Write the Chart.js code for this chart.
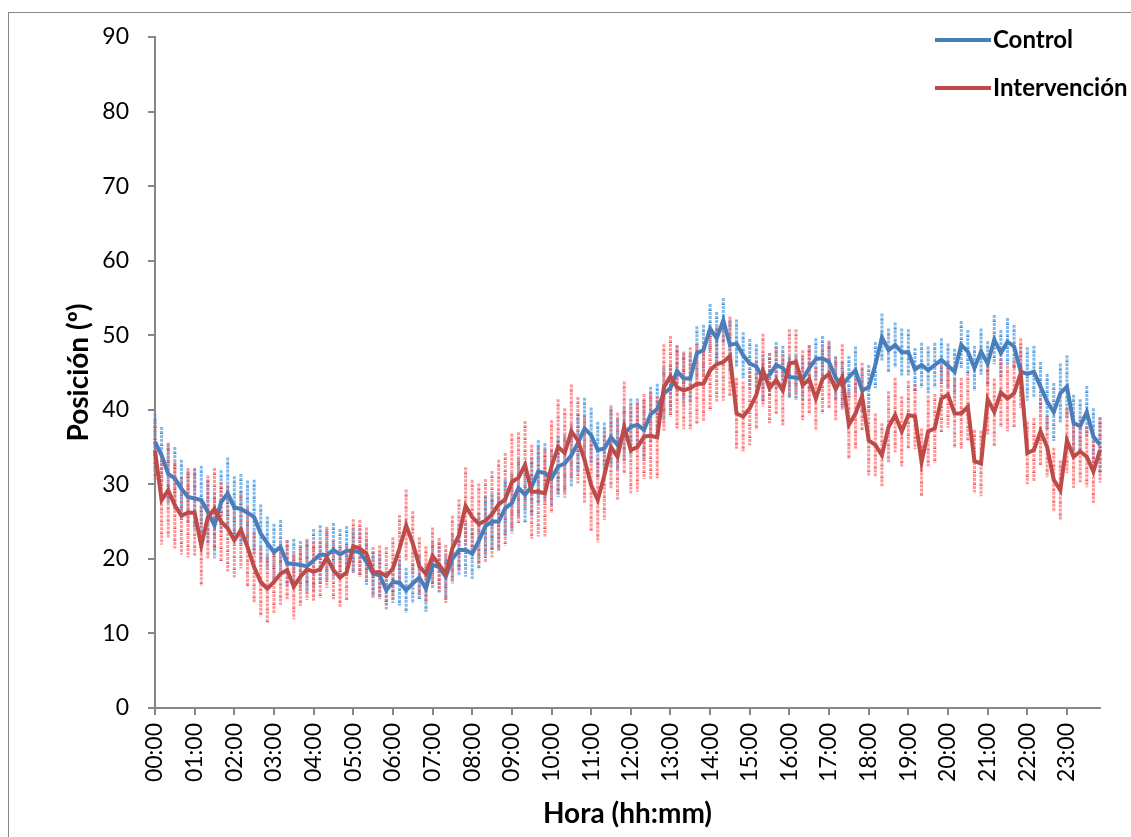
<!doctype html>
<html lang="es">
<head>
<meta charset="utf-8">
<title>Posición por hora</title>
<script src="https://cdn.jsdelivr.net/npm/chart.js"></script>
<style>
  html, body { margin: 0; padding: 0; background: #fff; overflow: hidden; }
  .wrap { position: relative; width: 1131px; height: 837px; }
  .frame { position: absolute; left: 8px; top: 12px; width: 1200px; height: 900px; border: 1px solid #868686; }
  #grafica { position: absolute; left: 0; top: 0; }
  .leyenda { position: absolute; left: 935px; top: 24px; font-family: Lato, sans-serif; font-weight: bold; font-size: 24px; color: #000; }
  .leyenda div { height: 48px; display: flex; align-items: flex-start; }
  .leyenda span.linea { display: inline-block; width: 56px; height: 4px; margin-top: 14px; margin-right: 2px; }
</style>
</head>
<body>
<div class="wrap">
  <div class="frame"></div>
  <canvas id="grafica" width="1131" height="837"></canvas>
  <div class="leyenda">
    <div><span class="linea" style="background:#4A7EBB"></span>Control</div>
    <div><span class="linea" style="background:#BE4B48"></span>Intervención</div>
  </div>
</div>
<script>
// horas del eje x (una marca por hora)
var etiquetasHora = ['00:00','01:00','02:00','03:00','04:00','05:00','06:00','07:00','08:00','09:00','10:00','11:00',
  '12:00','13:00','14:00','15:00','16:00','17:00','18:00','19:00','20:00','21:00','22:00','23:00'];

// medias cada 10 minutos
var control = [
  35.7,33.9,31.4,30.8,29.4,28.3, 28.1,27.9,26.3,24.5,27.6,28.8, 26.9,26.7,26.2,25.6,23.4,22.1,
  20.9,21.6,19.4,19.3,19.2,19.0, 19.8,20.6,20.5,21.2,20.6,21.1, 21.1,20.9,19.6,18.0,17.8,15.8,
  16.9,16.8,15.8,16.7,17.5,16.0, 19.2,18.9,17.6,20.0,21.2,21.2, 20.7,22.4,24.4,25.0,25.0,26.8,
  27.5,29.5,28.6,29.7,31.7,31.5, 30.8,32.4,32.8,33.9,35.5,37.5, 36.6,34.6,34.8,36.3,35.3,36.8,
  37.7,38.0,37.3,39.4,40.1,42.2, 42.9,45.2,44.2,44.2,47.6,48.0, 50.9,49.6,52.0,48.7,48.9,47.3,
  46.2,45.8,44.2,44.7,46.0,45.6, 44.4,44.3,44.1,45.6,46.8,46.9, 46.4,44.3,43.3,44.4,45.3,42.6,
  43.0,46.0,49.7,48.0,48.7,47.7, 47.7,45.4,46.0,45.3,46.0,46.7, 45.9,45.1,48.7,47.8,45.6,47.8,
  46.2,49.4,47.6,49.1,48.5,45.1, 44.8,45.1,43.1,41.1,39.7,42.2, 43.1,38.2,37.8,39.7,36.4,35.3
];
var intervencion = [
  34.5,27.9,29.2,27.2,25.8,26.2, 26.2,21.8,25.6,26.7,25.0,24.1, 22.5,23.9,21.6,18.9,16.9,16.0,
  16.9,18.0,18.5,16.3,17.6,18.6, 18.3,18.6,20.2,18.5,17.5,18.2, 21.7,21.4,20.7,18.2,18.2,17.7,
  18.7,21.4,24.5,22.1,19.0,18.0, 20.4,19.2,18.0,21.4,23.2,27.1, 25.6,24.7,25.1,26.0,27.3,28.0,
  30.3,30.9,32.6,29.0,29.0,28.8, 32.4,35.0,34.2,37.1,35.9,33.3, 29.9,27.9,31.2,35.0,33.7,37.7,
  34.6,35.0,36.4,36.5,36.3,43.0, 44.5,43.0,42.6,42.9,43.5,43.5, 45.3,46.1,46.4,47.2,39.5,39.1,
  40.2,42.0,45.3,42.9,44.0,42.6, 46.2,46.4,43.3,44.1,41.5,44.1, 44.8,42.8,44.4,38.0,39.5,41.8,
  35.9,35.3,33.9,37.7,39.3,37.1, 39.3,39.1,33.0,37.1,37.5,41.5, 42.0,39.5,39.5,40.4,33.1,32.8,
  41.4,39.7,42.3,41.5,42.2,44.9, 34.2,34.6,37.1,35.0,30.6,29.2, 35.9,33.7,34.4,33.7,31.7,34.6
];

// desviaciones (barras de error)
var errControl = [
  3.8,3.8,4.0,4.2,3.9,3.5, 4.1,4.6,4.3,4.4,4.3,4.8, 4.2,4.7,4.3,5.0,3.9,3.6, 3.8,3.6,3.1,3.4,3.2,3.5,
  4.2,3.9,3.5,3.6,3.4,3.3, 3.0,3.2,3.1,3.0,2.9,2.6, 2.8,3.1,3.0,2.7,2.9,3.1, 3.2,3.4,3.0,3.3,3.5,3.6,
  3.4,3.8,4.0,3.7,3.9,3.8, 4.1,4.0,3.7,3.9,4.2,4.0, 3.8,4.1,3.9,4.3,4.0,4.1, 3.7,3.8,3.5,3.9,3.4,3.6,
  3.8,3.5,3.9,3.7,3.4,3.6, 3.3,3.5,3.4,3.2,3.6,3.4, 3.3,3.5,3.0,3.4,3.2,3.1, 3.3,3.0,3.2,2.9,3.1,3.0,
  2.8,3.0,2.9,3.1,2.8,3.0, 2.7,2.9,3.1,2.8,3.2,2.9, 3.0,3.1,3.2,2.9,3.0,3.2, 3.1,2.9,3.0,3.2,3.0,2.9,
  3.0,3.1,3.2,2.9,3.0,3.1, 3.0,3.3,3.1,3.2,2.9,3.4, 3.6,3.5,3.3,3.7,3.9,4.0, 4.2,3.8,3.6,3.5,3.8,3.7
];
var errIntervencion = [
  4.0,6.0,6.4,5.8,5.2,6.0, 5.9,5.4,5.6,5.5,5.3,5.8, 5.0,5.2,5.4,4.8,4.6,4.5, 4.3,4.2,4.0,4.4,3.9,4.1,
  4.0,3.8,4.1,3.9,4.0,3.7, 3.6,3.8,3.5,3.4,3.6,3.9, 4.2,4.5,4.8,4.3,3.9,3.7, 3.8,3.6,3.9,4.4,4.8,5.2,
  5.0,5.4,5.6,5.8,6.0,6.2, 6.5,6.1,5.9,6.3,6.0,5.8, 6.2,6.4,6.0,6.3,5.8,5.9, 6.1,5.7,6.0,5.6,5.9,6.1,
  5.8,6.0,5.7,5.9,5.5,5.8, 5.4,5.6,5.2,5.5,5.3,5.1, 5.4,5.0,5.2,5.3,4.8,4.7, 5.0,4.6,4.9,4.7,4.5,4.8,
  4.6,4.4,4.7,4.5,4.3,4.6, 4.5,4.2,4.4,4.6,4.8,4.5, 4.7,4.2,4.3,4.8,5.0,4.7, 4.6,4.4,4.5,4.8,4.6,4.5,
  4.4,4.6,4.8,4.5,4.2,4.4, 4.7,4.5,4.6,4.4,4.5,4.7, 4.2,4.3,4.5,4.1,4.3,4.0, 4.4,4.2,4.3,4.1,4.2,4.4
];

// etiquetas cada 10 min
var tiempos = [];
for (var h = 0; h < 24; h++) {
  for (var m = 0; m < 60; m += 10) {
    tiempos.push((h < 10 ? '0' : '') + h + ':' + (m < 10 ? '0' : '') + m);
  }
}

var grisEje = '#868686';

// barras de error punteadas, detras de las lineas
var barrasError = {
  id: 'barrasError',
  beforeDatasetsDraw: function(chart) {
    var ctx = chart.ctx;
    var xs = chart.scales.x, ys = chart.scales.y;
    var series = [
      { med: control, err: errControl, color: 'rgba(80,160,225,0.72)', oscuro: 'rgba(40,110,190,0.7)' },
      { med: intervencion, err: errIntervencion, color: 'rgba(255,85,85,0.6)', oscuro: 'rgba(220,30,40,0.6)' }
    ];
    ctx.save();
    ctx.lineWidth = 3;
    series.forEach(function(s) {
      for (var i = 0; i < s.med.length; i++) {
        var x = xs.getPixelForValue(i);
        var y1 = ys.getPixelForValue(s.med[i] + s.err[i]);
        var y2 = ys.getPixelForValue(s.med[i] - s.err[i]);
        ctx.strokeStyle = s.color;
        ctx.setLineDash([3, 1]);
        ctx.beginPath(); ctx.moveTo(x, y1); ctx.lineTo(x, y2); ctx.stroke();
        ctx.strokeStyle = s.oscuro;
        ctx.setLineDash([1, 11]);
        ctx.beginPath(); ctx.moveTo(x, y1 + 6); ctx.lineTo(x, y2); ctx.stroke();
      }
    });
    ctx.restore();
  }
};

Chart.defaults.font.family = 'Lato';
Chart.defaults.color = '#000';

new Chart(document.getElementById('grafica'), {
  type: 'line',
  data: {
    labels: tiempos,
    datasets: [
      { label: 'Control', data: control, borderColor: '#4A7EBB', borderWidth: 4, pointRadius: 0, tension: 0, order: 1 },
      { label: 'Intervención', data: intervencion, borderColor: '#BE4B48', borderWidth: 4, pointRadius: 0, tension: 0, order: 0 }
    ]
  },
  options: {
    responsive: false,
    animation: false,
    layout: { padding: { left: 58, top: 37, right: 31, bottom: 2 } },
    plugins: { legend: { display: false }, tooltip: { enabled: false } },
    scales: {
      x: {
        type: 'category',
        offset: false,
        grid: { display: true, drawOnChartArea: false, drawTicks: true, tickLength: 7, color: grisEje, lineWidth: 2 },
        border: { display: true, color: grisEje, width: 2 },
        ticks: {
          autoSkip: false, maxRotation: 90, minRotation: 90, padding: 8,
          font: { size: 23 },
          callback: function(v, i) {
            var t = tiempos[i];
            if (t.slice(3) !== '00') return null;
            return etiquetasHora[parseInt(t.slice(0, 2), 10)];
          }
        },
        title: { display: true, text: 'Hora (hh:mm)', font: { size: 28, weight: 'bold' }, padding: { top: 4, bottom: 4 } },
        afterFit: function(s) { s.height = 127; }
      },
      y: {
        min: 0, max: 90,
        grid: { display: true, drawOnChartArea: false, drawTicks: true, tickLength: 7, color: grisEje, lineWidth: 2 },
        border: { display: true, color: grisEje, width: 2 },
        ticks: { stepSize: 10, padding: 19, font: { size: 23 } },
        title: { display: true, text: 'Posición (º)', font: { size: 28, weight: 'bold' }, padding: { top: 4, bottom: 4 } },
        afterFit: function(s) { s.width = 97; }
      }
    }
  },
  plugins: [barrasError]
});
</script>
</body>
</html>
